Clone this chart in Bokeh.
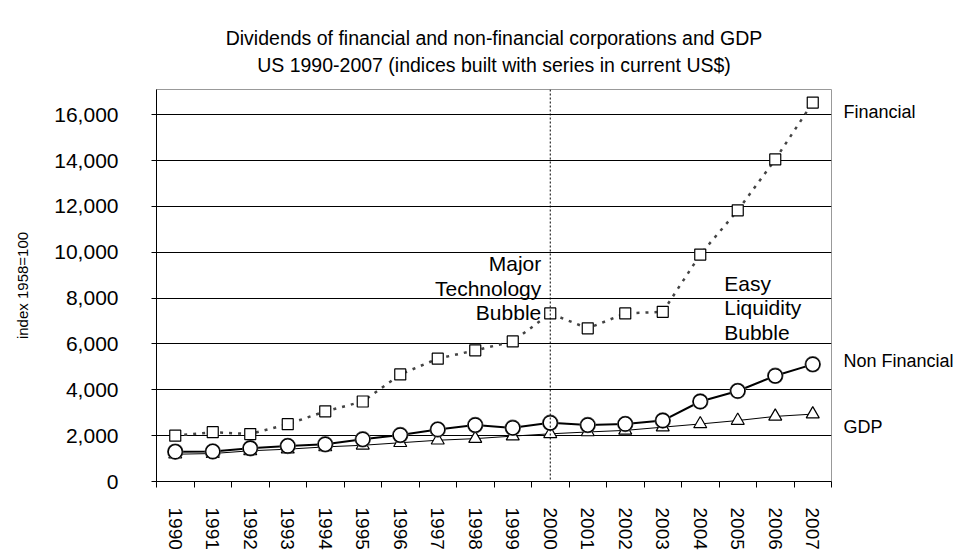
from bokeh.plotting import figure
from bokeh.models import (Range1d, FixedTicker, NumeralTickFormatter, Span, Label,
                          LinearAxis)
from bokeh.embed import file_html
from bokeh.resources import INLINE

years = list(range(1990, 2008))
financial = [2000, 2150, 2070, 2500, 3060, 3490, 4670, 5360, 5720, 6110,
             7330, 6680, 7330, 7400, 9900, 11830, 14050, 16530]
non_financial = [1300, 1310, 1450, 1550, 1620, 1840, 2025, 2270, 2460, 2340,
                 2560, 2460, 2510, 2660, 3490, 3950, 4610, 5110]
gdp = [1190, 1220, 1340, 1410, 1510, 1580, 1690, 1800, 1870, 1980,
       2080, 2160, 2230, 2370, 2510, 2660, 2840, 2940]
series_names = ["Financial", "Non Financial", "GDP"]
y_ticks = list(range(0, 16001, 2000))
title_lines = ["Dividends of financial and non-financial corporations and GDP",
               "US 1990-2007 (indices built with series in current US$)"]

FONT = "Liberation Sans"

p = figure(width=956, height=552, output_backend="svg", toolbar_location=None,
           x_range=Range1d(years[0] - 0.5, years[-1] + 0.5), y_range=Range1d(0, 17100),
           min_border_left=156, min_border_right=122, min_border_top=89, min_border_bottom=66)
p.title = None


def title_axis(text, standoff):
    return LinearAxis(ticker=FixedTicker(ticks=[]), axis_line_color=None,
                      major_tick_line_color=None, minor_tick_line_color=None,
                      major_tick_out=0, major_tick_in=0, minor_tick_out=0, minor_tick_in=0,
                      major_label_standoff=0, axis_label=text, axis_label_standoff=standoff,
                      axis_label_text_font=FONT, axis_label_text_font_size="19.5px",
                      axis_label_text_font_style="normal", axis_label_text_color="black")


# title lines drawn as labels of blank axes above the plot
p.add_layout(title_axis(title_lines[1], 14), "above")
p.add_layout(title_axis(title_lines[0], 2), "above")

p.outline_line_color = "#999999"
p.background_fill_color = "white"
p.border_fill_color = "white"

# x axis
xax = p.below[0]
xax.ticker = FixedTicker(ticks=years, minor_ticks=[y - 0.5 for y in years] + [years[-1] + 0.5])
xax.major_tick_out = 0
xax.major_tick_in = 0
xax.minor_tick_out = 6
xax.minor_tick_in = 0
xax.minor_tick_line_color = "black"
xax.major_label_orientation = "vertical"
xax.major_label_text_font = FONT
xax.major_label_text_font_size = "19px"
xax.major_label_text_color = "black"
xax.major_label_standoff = 20
xax.axis_line_color = "black"
p.xgrid.grid_line_color = None

# y axis
p.yaxis.ticker = FixedTicker(ticks=y_ticks)
p.yaxis.formatter = NumeralTickFormatter(format="0,0")
p.yaxis.major_tick_out = 5
p.yaxis.major_tick_in = 0
p.yaxis.minor_tick_line_color = None
p.yaxis.major_tick_line_color = "black"
p.yaxis.axis_line_color = "black"
p.yaxis.major_label_text_font = FONT
p.yaxis.major_label_text_font_size = "21px"
p.yaxis.major_label_text_color = "black"
p.yaxis.major_label_standoff = 33
p.yaxis.axis_label = "index 1958=100"
p.yaxis.axis_label_text_font = FONT
p.yaxis.axis_label_text_font_size = "15px"
p.yaxis.axis_label_text_font_style = "normal"
p.yaxis.axis_label_text_color = "black"
p.yaxis.axis_label_standoff = 20
p.ygrid.grid_line_color = "black"
p.ygrid.grid_line_width = 1
p.ygrid.ticker = FixedTicker(ticks=y_ticks)

# right-side series names, placed beside each series' last value
last_vals = [financial[-1], non_financial[-1], gdp[-1]]
nudges = [-410, 130, -580]  # small visual nudges in data units
label_pos = [v + d for v, d in zip(last_vals, nudges)]
right = LinearAxis(ticker=FixedTicker(ticks=label_pos),
                   major_label_overrides={pos: name for pos, name in zip(label_pos, series_names)},
                   axis_line_color=None, major_tick_line_color=None, minor_tick_line_color=None,
                   major_label_standoff=6, major_label_text_font=FONT,
                   major_label_text_font_size="18px", major_label_text_color="black")
p.add_layout(right, "right")

# vertical dotted line at 2000
p.add_layout(Span(location=years[10], dimension="height", line_color="black",
                  line_dash="2 2", line_width=1))

# GDP
p.line(years, gdp, line_color="black", line_width=1)
p.scatter(years, gdp, marker="triangle", size=13, fill_color="white",
          line_color="black", line_width=1.2)

# Non financial
p.line(years, non_financial, line_color="black", line_width=2)
p.scatter(years, non_financial, marker="circle", size=15, fill_color="#555555",
          line_color="#555555", line_width=1.5)
p.scatter(years, non_financial, marker="circle", size=14, fill_color="white",
          line_color="black", line_width=1.3)

# Financial
p.line(years, financial, line_color="#444444", line_width=2.5, line_dash="3 6")
p.scatter(years, financial, marker="square", size=11, fill_color="white",
          line_color="black", line_width=1.2)

p.add_layout(Label(x=years[10], y=financial[10], x_offset=-9, y_offset=-11,
                   text="Major\nTechnology\nBubble", text_font=FONT, text_font_size="21px",
                   text_color="black", text_align="right", text_baseline="bottom",
                   text_line_height=1.07))
p.add_layout(Label(x=years[14], y=financial[13], x_offset=24, y_offset=40,
                   text="Easy\nLiquidity\nBubble", text_font=FONT, text_font_size="21px",
                   text_color="black", text_align="left", text_baseline="top",
                   text_line_height=1.07))

open("out.html", "w").write(file_html(p, INLINE))
